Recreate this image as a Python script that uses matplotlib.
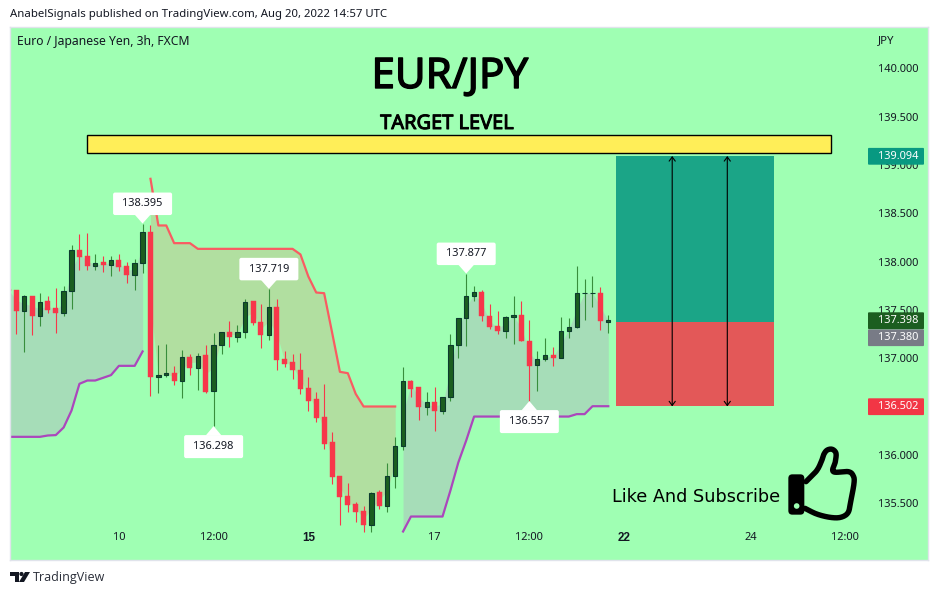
import numpy as np
import matplotlib
matplotlib.use("Agg")
import matplotlib.pyplot as plt
import matplotlib.patheffects as pe
from matplotlib.patches import FancyBboxPatch, Polygon, Rectangle, Circle
from matplotlib.transforms import Affine2D

# ---- data; the first candle has index -1 ---------------------------------
highs = [137.72,
  137.712,137.657,137.647,137.671,137.647,137.723,137.750,138.175,138.282,138.302,
  138.075,138.054,138.064,138.081,137.992,138.023,138.395,138.375,137.133,137.143,
  136.922,137.081,137.040,137.053,137.133,137.264,137.274,137.391,137.347,137.609,
  137.588,137.564,137.719,137.616,137.071,137.040,137.060,136.802,136.646,136.736,
  136.232,135.777,135.704,135.508,135.466,135.618,135.632,135.911,136.181,136.915,
  136.780,136.698,136.656,136.708,136.601,137.256,137.419,137.877,137.753,137.708,
  137.557,137.494,137.443,137.650,137.588,137.401,137.080,137.205,137.122,137.432,
  137.422,137.960,137.826,137.857,137.733,137.453]
tops = [137.72,
  137.712,137.647,137.647,137.584,137.588,137.516,137.699,138.123,138.123,138.054,
  137.988,137.992,138.019,138.019,137.957,137.988,138.309,138.309,136.829,136.850,
  136.853,137.015,137.015,137.026,137.029,137.140,137.274,137.274,137.274,137.585,
  137.588,137.371,137.533,137.533,136.988,136.957,136.884,136.688,136.574,136.388,
  136.129,135.777,135.570,135.487,135.415,135.608,135.611,135.784,136.094,136.767,
  136.767,136.698,136.549,136.549,136.601,137.139,137.419,137.646,137.688,137.688,
  137.439,137.339,137.429,137.450,137.453,137.184,136.994,137.036,137.036,137.284,
  137.325,137.677,137.677,137.677,137.681,137.398]
bottoms = [137.70,
  137.488,137.488,137.436,137.436,137.505,137.467,137.467,137.699,138.047,137.954,
  137.954,137.961,137.964,137.950,137.861,137.861,137.988,136.805,136.805,136.826,
  136.764,136.764,136.898,136.898,136.653,136.660,137.136,137.216,137.219,137.271,
  137.364,137.240,137.240,136.981,136.946,136.874,136.681,136.563,136.377,136.118,
  135.767,135.560,135.477,135.404,135.270,135.270,135.466,135.466,135.777,136.091,
  136.687,136.491,136.494,136.459,136.459,136.597,137.136,137.415,137.643,137.436,
  137.329,137.287,137.287,137.425,137.174,136.925,136.929,136.991,136.998,137.001,
  137.281,137.322,137.674,137.674,137.384,137.380]
lows = [137.70,
  137.250,137.063,137.239,137.332,137.467,137.260,137.436,137.509,137.912,137.912,
  137.912,137.892,137.850,137.902,137.778,137.712,137.881,136.605,136.639,136.805,
  136.722,136.588,136.826,136.677,136.636,136.298,137.040,137.115,137.167,137.209,
  137.340,137.105,137.188,136.884,136.908,136.784,136.629,136.450,136.339,136.056,
  135.694,135.270,135.404,135.301,135.197,135.197,135.435,135.404,135.653,136.046,
  136.597,136.366,136.418,136.252,136.428,136.563,136.998,137.132,137.588,137.391,
  137.308,137.256,137.215,137.143,137.174,136.557,136.666,136.967,136.925,136.998,
  137.215,137.315,137.401,137.526,137.298,137.267]
# 1 = bullish, 0 = bearish
bullish = [0,
  0,1,0,1,0,0,1,1,0,0,
  1,0,1,0,0,1,1,0,1,1,
  0,1,0,1,0,1,1,0,1,1,
  0,0,1,0,0,0,0,0,0,0,
  0,0,0,0,0,1,0,1,1,1,
  0,0,1,0,1,1,1,1,1,0,
  0,0,1,1,0,0,1,1,0,1,
  1,1,1,1,0,1]
first_index = -1

up_a_idx = [-1,0,1,2,3,4,5,6,7,8,9,10,11,12,13,14,15,16]
up_a_val = [136.187,136.187,136.187,136.187,136.187,136.201,136.205,136.284,136.460,136.736,136.770,136.770,136.798,136.826,136.922,136.922,136.922,137.071]
down_idx = [17,18,19,20,21,22,23,24,25,26,27,28,29,30,31,32,33,34,35,36,37,38,39,40,41,42,43,44,45,46,47,48]
down_val = [138.858,138.375,138.375,138.192,138.192,138.192,138.133,138.133,138.133,138.133,138.133,138.133,138.133,138.133,138.133,138.133,138.133,138.133,138.133,138.075,137.847,137.681,137.674,137.271,136.860,136.846,136.632,136.501,136.501,136.501,136.501,136.501]
up_b_idx = [49,50,51,52,53,54,55,56,57,58,59,60,61,62,63,64,65,66,67,68,69,70,71,72,73,74,75]
up_b_val = [135.207,135.362,135.362,135.362,135.362,135.362,135.631,135.921,136.149,136.397,136.397,136.397,136.397,136.397,136.397,136.397,136.397,136.397,136.397,136.397,136.397,136.397,136.422,136.422,136.504,136.504,136.504]

price_ticks = [135.5,136.0,136.5,137.0,137.5,138.0,138.5,139.0,139.5,140.0]
time_ticks = [13,25,37,53,65,77,93,105]
time_labels = ["10","12:00","15","17","12:00","22","24","12:00"]
time_bold = ["15","22"]
target_price = 139.094
entry_price = 137.380
stop_price = 136.502
last_price = 137.398
target_band = (139.125,139.31)
pos_span = (76,96)
band_span = (8.96,103.2)
arrow_idx = [83.1,90.08]
extremes = [(16,138.395,1),(32,137.719,1),(57,137.877,1),(25,136.298,0),(65,136.557,0)]

# ---- styles --------------------------------------------------------------
BG = "#9FFFB3"
FILL_UP = "#A6DDB8"
FILL_DN = "#B1DFA0"
GREEN = "#1B5E20"
GREEN_EDGE = "#0C3B2E"
WICK_G = "#388E3C"
RED = "#F7374A"
LINE_R = "#F95C62"
LINE_P = "#AB47BC"
TXT = "#131722"
FONT = "Noto Sans"
NUM = "Noto Sans"
NUMSIZE = 7.9

W, H = 938, 595
fig = plt.figure(figsize=(W/100, H/100), dpi=100, facecolor="white")
L, R, T, B = 10, 928, 27, 559.5
ax = fig.add_axes([L/W, 1-B/H, (R-L)/W, (B-T)/H], facecolor=BG)
SX, X0 = 7.893, 16.3
SY, Y140 = 96.6, 68.5
ax.set_xlim((L-X0)/SX, (R-X0)/SX)
ax.set_ylim(140-(B-Y140)/SY, 140+(Y140-T)/SY)
for s in ax.spines.values():
    s.set_color("#E0E3EB")
    s.set_linewidth(1)

ax.yaxis.tick_right()
ax.set_yticks(price_ticks)
ax.set_yticklabels([f"{p:.3f}" for p in price_ticks], fontsize=NUMSIZE, color=TXT, family=NUM, ha="left")
ax.tick_params(axis="y", length=0, pad=-36.2)
ax.set_xticks(time_ticks)
ax.set_xticklabels(time_labels, fontsize=NUMSIZE, color=TXT, family=NUM)
ax.tick_params(axis="x", length=0, pad=-19.5)
for lab in ax.get_xticklabels():
    if lab.get_text() in time_bold:
        lab.set_family("Liberation Sans")
        lab.set_fontweight("bold")
        lab.set_fontsize(8.4)

idx = np.arange(len(highs)) + first_index
hi, top, bot, lo = map(np.array, (highs, tops, bottoms, lows))
bull = np.array(bullish, dtype=bool)
mid = (top + bot) / 2
midmap = dict(zip(idx.tolist(), mid.tolist()))

def band(ix, vals, col):
    ax.fill_between(ix, [midmap[i] for i in ix], vals, color=col, lw=0, zorder=1)

band(up_a_idx, up_a_val, FILL_UP)
band(down_idx, down_val, FILL_DN)
band(up_b_idx, up_b_val, FILL_UP)

ax.plot(up_a_idx, up_a_val, color=LINE_P, lw=1.6, zorder=1.6)
ax.plot(up_b_idx, up_b_val, color=LINE_P, lw=1.6, zorder=1.6)
ax.plot(down_idx, down_val, color=LINE_R, lw=1.6, zorder=1.6)

ax.vlines(idx[bull], lo[bull], hi[bull], color=WICK_G, lw=0.8, zorder=2)
ax.vlines(idx[~bull], lo[~bull], hi[~bull], color=RED, lw=0.8, zorder=2)
ax.bar(idx[bull], (top-bot)[bull], bottom=bot[bull], width=4.4/SX, color=GREEN,
       edgecolor=GREEN_EDGE, linewidth=0.8, zorder=2.2)
ax.bar(idx[~bull], (top-bot)[~bull], bottom=bot[~bull], width=5/SX, color=RED,
       edgecolor=RED, linewidth=0.3, zorder=2.2)

# position tool
ax.add_patch(Rectangle((pos_span[0], entry_price), pos_span[1]-pos_span[0], target_price-entry_price,
                       fc="#1BA587", ec="none", zorder=3))
ax.add_patch(Rectangle((pos_span[0], stop_price), pos_span[1]-pos_span[0], entry_price-stop_price,
                       fc="#E35858", ec="none", zorder=3))
for a in arrow_idx:
    ax.annotate("", xy=(a, target_price), xytext=(a, stop_price), zorder=3.2,
                arrowprops=dict(arrowstyle="<->,head_length=0.3,head_width=0.22", color="black",
                                lw=0.8, shrinkA=0, shrinkB=0))
# target band
ax.add_patch(Rectangle((band_span[0], target_band[0]), band_span[1]-band_span[0], target_band[1]-target_band[0],
                       fc="#FFEE58", ec="black", lw=1, zorder=3.3))

# pixel space for annotation furniture
PX = Affine2D().scale(1, -1).translate(0, H)

def ptxt(x, y, s, **kw):
    kw.setdefault("family", FONT)
    kw.setdefault("color", TXT)
    kw.setdefault("va", "center")
    return fig.text(x/W, 1-y/H, s, **kw)

def pbox(x0, y0, x1, y1, fc, r=2, z=5):
    p = FancyBboxPatch((x0, y0), x1-x0, y1-y0, boxstyle=f"round,pad=0,rounding_size={r}",
                       fc=fc, ec="none", transform=PX, zorder=z, clip_on=False)
    ax.add_patch(p)

# extreme labels
for i, p, up in extremes:
    xp = X0 + SX*i
    yp = Y140 + (140-p)*SY
    if up:
        y0, y1 = yp-31, yp-8.5
        tri = [(xp-8, y1-0.5), (xp+8, y1-0.5), (xp, yp)]
    else:
        y0, y1 = yp+9, yp+32
        tri = [(xp-8, y0+0.5), (xp+8, y0+0.5), (xp, yp)]
    ax.add_patch(Polygon(tri, closed=True, fc="white", ec="none", transform=PX, zorder=5))
    pbox(xp-29.5, y0, xp+29.5, y1, "white")
    ax.text(xp, (y0+y1)/2, f"{p:.3f}", transform=PX, ha="center", va="center", fontsize=NUMSIZE,
            color=TXT, family=NUM, zorder=6)

# price axis labels
plabels = [(target_price, 156.3, "#089981"), (last_price, 320.7, GREEN),
           (entry_price, 337.7, "#787B86"), (stop_price, 406.7, "#F23645")]
for p, yc, col in plabels:
    pbox(868, yc-8.4, 924, yc+8.4, col, r=1)
    ax.text(878, yc, f"{p:.3f}", transform=PX, ha="left", va="center", fontsize=NUMSIZE,
            color="white", family=NUM, zorder=6)

# headers / titles
ptxt(10, 14.5, "AnabelSignals published on TradingView.com, Aug 20, 2022 14:57 UTC", fontsize=8.2, color="#131722")
ptxt(17, 41.5, "Euro / Japanese Yen, 3h, FXCM", fontsize=8.75)
ptxt(878, 41, "JPY", fontsize=8.2)
t = ptxt(450, 77, "EUR/JPY", fontsize=30.3, color="black", ha="center", family="Noto Sans")
t.set_path_effects([pe.withStroke(linewidth=1.0, foreground="black")])
t2 = ptxt(447.5, 124, "TARGET LEVEL", fontsize=14.4, color="black", ha="center", family="Noto Sans")
t2.set_path_effects([pe.withStroke(linewidth=0.7, foreground="black")])
ptxt(611.5, 496.5, "Like And Subscribe", fontsize=12.7, color="black", family="DejaVu Sans")

# thumb-up sign: smooth outline through points measured on the reference
ZX = lambda z: 600 + z/3
ZY = lambda z: 430 + z/3
outline = np.array([(618,155),(650,122),(665,92),(672,72),(682,60),(697,58),(708,70),(706,95),(700,125),
           (745,125),(760,138),(762,160),(752,215),(744,248),(722,262),(690,262),(650,252),(615,235)], float)
s = []
for k in range(len(outline)-1):
    p0 = outline[max(k-1, 0)]; p1 = outline[k]; p2 = outline[k+1]; p3 = outline[min(k+2, len(outline)-1)]
    for u in np.linspace(0, 1, 8, endpoint=False):
        s.append(0.5*((2*p1) + (p2-p0)*u + (2*p0-5*p1+4*p2-p3)*u*u + (3*p1-p0-3*p2+p3)*u**3))
s = np.array(s + [outline[-1]])
ax.plot(ZX(s[:,0]), ZY(s[:,1]), color="black", lw=3.9, transform=PX, zorder=6,
        solid_joinstyle="round", solid_capstyle="round", clip_on=False)
pbox(ZX(565), ZY(133), ZX(613), ZY(254), "black", r=4, z=6)
ax.add_patch(Circle((ZX(590), ZY(228)), 2.8, fc=BG, ec="none", transform=PX, zorder=7))

# footer logo
fig.patches.extend([
    Polygon([(10,572),(19,572),(19,582),(15,582),(15,576),(10,576)], closed=True, fc="#131722", ec="none", transform=PX),
    Circle((21.5,574), 2.1, fc="#131722", ec="none", transform=PX),
    Polygon([(25,572),(30,572),(24,582),(19,582)], closed=True, fc="#131722", ec="none", transform=PX),
])
ptxt(33, 577.5, "TradingView", fontsize=9, color="#2A2E39", family="Open Sans")

fig.savefig("out.png", dpi=100)
